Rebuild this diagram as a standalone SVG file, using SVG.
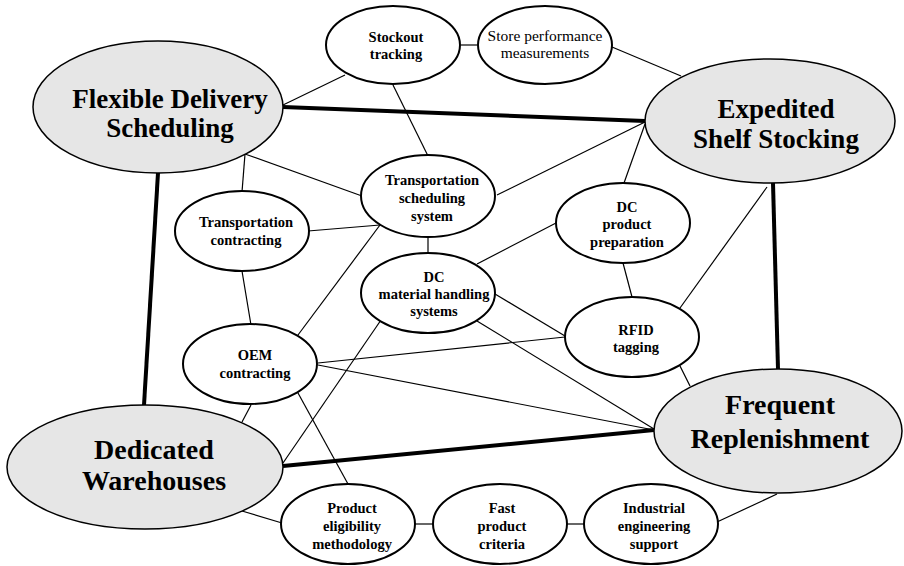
<svg xmlns="http://www.w3.org/2000/svg" width="904" height="566" viewBox="0 0 904 566">
<style>
.big{fill:#e6e6e6;stroke:#000;stroke-width:1.5}
.sm{fill:#fff;stroke:#000;stroke-width:2}
.thin{stroke:#000;stroke-width:1.2;fill:none}
.thick{stroke:#000;stroke-width:4;fill:none}
text{font-family:'Liberation Serif','Times New Roman','DejaVu Serif',serif;text-anchor:middle;fill:#000}
.bt{font-weight:bold;font-size:27px}
.st{font-weight:bold;font-size:14.5px}
.rt{font-size:15.5px}
</style>
<rect width="904" height="566" fill="#fff"/>
<g id="connectors">
<line class="thin" x1="283" y1="105" x2="345" y2="75"/>
<line class="thin" x1="461" y1="45" x2="477" y2="45"/>
<line class="thin" x1="612" y1="47" x2="681" y2="76"/>
<line class="thin" x1="393" y1="85" x2="428" y2="156"/>
<line class="thin" x1="245" y1="154" x2="362" y2="196"/>
<line class="thin" x1="245" y1="154" x2="242" y2="192"/>
<line class="thin" x1="308" y1="231" x2="380" y2="225"/>
<line class="thin" x1="497" y1="195" x2="645" y2="122"/>
<line class="thin" x1="645" y1="124" x2="624" y2="183"/>
<line class="thin" x1="428" y1="237" x2="428" y2="253"/>
<line class="thin" x1="380" y1="225" x2="298" y2="335"/>
<line class="thin" x1="242" y1="271" x2="251" y2="325"/>
<line class="thin" x1="477" y1="264" x2="556" y2="223"/>
<line class="thin" x1="623" y1="263" x2="632" y2="297"/>
<line class="thin" x1="767" y1="187" x2="680" y2="308"/>
<line class="thin" x1="495" y1="294" x2="565" y2="336"/>
<line class="thin" x1="477" y1="321" x2="654" y2="429"/>
<line class="thin" x1="318" y1="363" x2="565" y2="337"/>
<line class="thin" x1="318" y1="365" x2="654" y2="430"/>
<line class="thin" x1="680" y1="366" x2="690" y2="386"/>
<line class="thin" x1="251" y1="405" x2="242" y2="422"/>
<line class="thin" x1="381" y1="320" x2="283" y2="463"/>
<line class="thin" x1="298" y1="393" x2="348" y2="484"/>
<line class="thin" x1="242" y1="511" x2="282" y2="523"/>
<line class="thin" x1="415" y1="524" x2="433" y2="524"/>
<line class="thin" x1="566" y1="524" x2="584" y2="524"/>
<line class="thin" x1="717" y1="522" x2="777" y2="494"/>
<line class="thick" x1="283" y1="107" x2="645" y2="121"/>
<line class="thick" x1="158" y1="173" x2="144" y2="405"/>
<line class="thick" x1="773" y1="183" x2="778" y2="369"/>
<line class="thick" x1="283" y1="466" x2="654" y2="430"/>
</g>
<g id="flexible-delivery-scheduling">
<ellipse class="big" cx="158" cy="107" rx="125" ry="66"/>
<text class="bt" x="170" y="108">Flexible Delivery</text>
<text class="bt" x="170" y="137">Scheduling</text>
</g>
<g id="expedited-shelf-stocking">
<ellipse class="big" cx="770" cy="121" rx="125" ry="62"/>
<text class="bt" x="776" y="118">Expedited</text>
<text class="bt" x="776" y="148">Shelf Stocking</text>
</g>
<g id="dedicated-warehouses">
<ellipse class="big" cx="145" cy="467" rx="138" ry="62"/>
<text class="bt" x="154" y="459" style="font-size:28px">Dedicated</text>
<text class="bt" x="154" y="490" style="font-size:28px">Warehouses</text>
</g>
<g id="frequent-replenishment">
<ellipse class="big" cx="778" cy="431" rx="124" ry="62"/>
<text class="bt" x="780" y="414" style="font-size:28px">Frequent</text>
<text class="bt" x="780" y="448" style="font-size:28px">Replenishment</text>
</g>
<g id="stockout-tracking">
<ellipse class="sm" cx="393" cy="45" rx="67" ry="39"/>
<text class="st" x="396" y="42">Stockout</text>
<text class="st" x="396" y="59">tracking</text>
</g>
<g id="store-performance-measurements">
<ellipse class="sm" cx="545" cy="45" rx="67" ry="39"/>
<text class="rt" x="545" y="41">Store performance</text>
<text class="rt" x="545" y="58">measurements</text>
</g>
<g id="transportation-scheduling-system">
<ellipse class="sm" cx="428" cy="196" rx="67" ry="41"/>
<text class="st" x="432" y="185">Transportation</text>
<text class="st" x="432" y="203">scheduling</text>
<text class="st" x="432" y="221">system</text>
</g>
<g id="transportation-contracting">
<ellipse class="sm" cx="242" cy="231" rx="67" ry="40"/>
<text class="st" x="246" y="227">Transportation</text>
<text class="st" x="246" y="245">contracting</text>
</g>
<g id="dc-product-preparation">
<ellipse class="sm" cx="623" cy="223" rx="67" ry="40"/>
<text class="st" x="627" y="212">DC</text>
<text class="st" x="627" y="229">product</text>
<text class="st" x="627" y="247">preparation</text>
</g>
<g id="dc-material-handling-systems">
<ellipse class="sm" cx="428" cy="293" rx="67" ry="40"/>
<text class="st" x="434" y="282">DC</text>
<text class="st" x="434" y="299">material handling</text>
<text class="st" x="434" y="316">systems</text>
</g>
<g id="rfid-tagging">
<ellipse class="sm" cx="632" cy="337" rx="67" ry="40"/>
<text class="st" x="636" y="335">RFID</text>
<text class="st" x="636" y="352">tagging</text>
</g>
<g id="oem-contracting">
<ellipse class="sm" cx="250" cy="364" rx="67" ry="40"/>
<text class="st" x="255" y="360">OEM</text>
<text class="st" x="255" y="378">contracting</text>
</g>
<g id="product-eligibility-methodology">
<ellipse class="sm" cx="348" cy="524" rx="67" ry="40"/>
<text class="st" x="352" y="513">Product</text>
<text class="st" x="352" y="531">eligibility</text>
<text class="st" x="352" y="549">methodology</text>
</g>
<g id="fast-product-criteria">
<ellipse class="sm" cx="500" cy="524" rx="67" ry="40"/>
<text class="st" x="502" y="513">Fast</text>
<text class="st" x="502" y="531">product</text>
<text class="st" x="502" y="549">criteria</text>
</g>
<g id="industrial-engineering-support">
<ellipse class="sm" cx="651" cy="524" rx="67" ry="40"/>
<text class="st" x="654" y="513">Industrial</text>
<text class="st" x="654" y="531">engineering</text>
<text class="st" x="654" y="549">support</text>
</g>
</svg>
